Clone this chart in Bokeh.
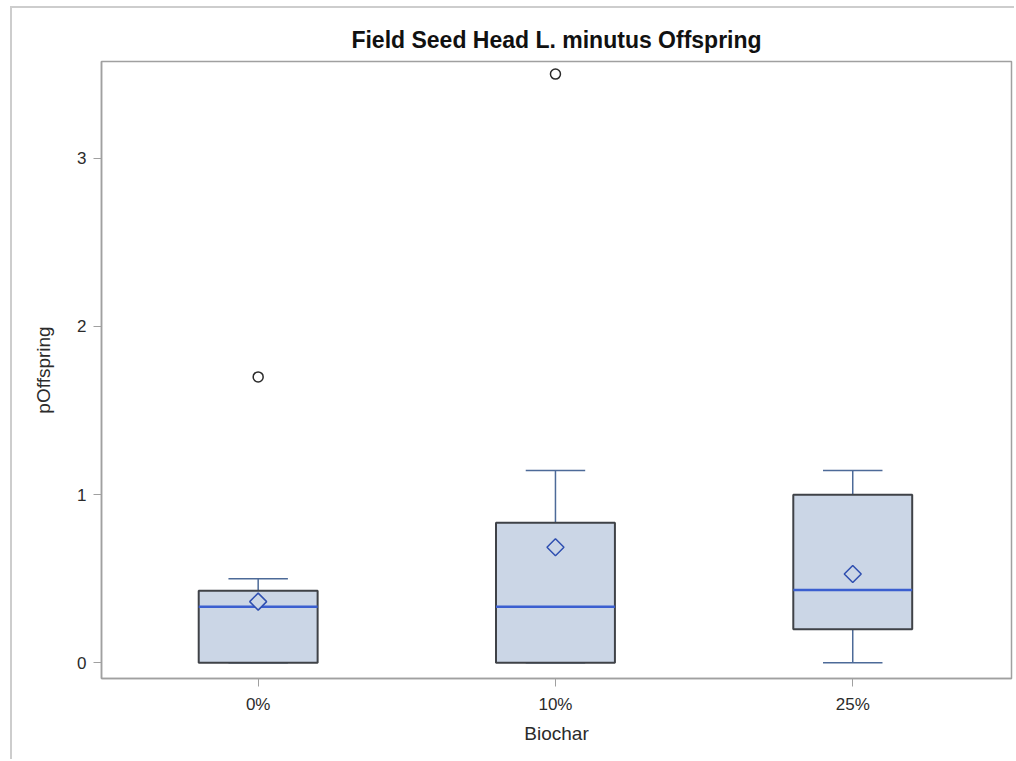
from math import pi

from bokeh.plotting import figure
from bokeh.models import FixedTicker, Range1d
from bokeh.embed import file_html
from bokeh.resources import INLINE

# Five-number summaries of offspring per seed head, by biochar level
categories = ["0%", "10%", "25%"]
q1 = [0.0, 0.0, 0.2]
median = [0.333, 0.333, 0.433]
q3 = [0.428, 0.833, 1.0]
whisker_low = [0.0, 0.0, 0.0]
whisker_high = [0.5, 1.143, 1.143]
means = [0.364, 0.687, 0.528]

# Outliers beyond the whiskers
outlier_group = [0, 1]
outlier_value = [1.70, 3.50]

y_ticks = [0, 1, 2, 3]

FONT = "Liberation Sans"
BOX_FILL = "#cbd6e6"
BOX_LINE = "#3f4247"
MEDIAN_COLOR = "#3b5fd0"
WHISKER_COLOR = "#4d6a98"
MEAN_COLOR = "#2f4fb0"

xs = list(range(len(categories)))
box_w = 0.4
cap_w = 0.2

p = figure(
    width=1004, height=753,
    x_range=Range1d(-0.527, 2.534),
    y_range=Range1d(-0.093, 3.575),
    title="Field Seed Head L. minutus Offspring",
    x_axis_label="Biochar", y_axis_label="pOffspring",
    output_backend="svg", toolbar_location=None,
    min_border_left=89, min_border_right=5,
    min_border_top=53, min_border_bottom=83,
)
p.margin = (6, 0, 0, 10)
p.styles = {"border-left": "2px solid #cdcdcd", "border-top": "2px solid #cdcdcd"}

p.background_fill_color = "white"
p.border_fill_color = "white"
p.outline_line_color = "#a0a0a0"
p.outline_line_width = 1.5
p.xgrid.visible = False
p.ygrid.visible = False

p.title.align = "center"
p.title.text_font = FONT
p.title.text_font_size = "23px"
p.title.text_font_style = "bold"
p.title.text_color = "#111111"
p.title.standoff = 18

for ax in (p.xaxis[0], p.yaxis[0]):
    ax.axis_line_color = "#a0a0a0"
    ax.axis_line_width = 1.5
    ax.major_tick_line_color = "#a0a0a0"
    ax.major_tick_in = 0
    ax.major_tick_out = 8
    ax.minor_tick_line_color = None
    ax.major_label_text_font = FONT
    ax.major_label_text_font_size = "17px"
    ax.major_label_text_color = "#2b2b2b"
    ax.axis_label_text_font = FONT
    ax.axis_label_text_font_size = "19px"
    ax.axis_label_text_font_style = "normal"
    ax.axis_label_text_color = "#2b2b2b"

p.xaxis.ticker = FixedTicker(ticks=xs)
p.xaxis.major_label_overrides = {i: c for i, c in enumerate(categories)}
p.xaxis.major_label_standoff = 8
p.xaxis.axis_label_standoff = 6

p.yaxis.ticker = FixedTicker(ticks=y_ticks)
p.yaxis.major_label_standoff = 7
p.yaxis.axis_label_standoff = 20

# Whiskers and caps
p.segment(x0=xs, y0=q3, x1=xs, y1=whisker_high, line_color=WHISKER_COLOR, line_width=1.5)
p.segment(x0=xs, y0=q1, x1=xs, y1=whisker_low, line_color=WHISKER_COLOR, line_width=1.5)
p.segment(x0=[x - cap_w / 2 for x in xs], y0=whisker_high,
          x1=[x + cap_w / 2 for x in xs], y1=whisker_high,
          line_color=WHISKER_COLOR, line_width=1.5)
p.segment(x0=[x - cap_w / 2 for x in xs], y0=whisker_low,
          x1=[x + cap_w / 2 for x in xs], y1=whisker_low,
          line_color=WHISKER_COLOR, line_width=1.5)

# Boxes
p.vbar(x=xs, width=box_w, bottom=q1, top=q3,
       fill_color=BOX_FILL, line_color=BOX_LINE, line_width=2)

# Medians
p.segment(x0=[x - box_w / 2 for x in xs], y0=median,
          x1=[x + box_w / 2 for x in xs], y1=median,
          line_color=MEDIAN_COLOR, line_width=2.5)

# Means, drawn as squares turned on their corner
p.scatter(x=xs, y=means, marker="square", angle=pi / 4, size=12,
          fill_color=BOX_FILL, line_color=MEAN_COLOR, line_width=1.5)

# Outliers
p.scatter(x=outlier_group, y=outlier_value, marker="circle", size=10,
          fill_color=None, line_color="#2a2a2a", line_width=1.5)

open("out.html", "w").write(file_html(p, INLINE))
